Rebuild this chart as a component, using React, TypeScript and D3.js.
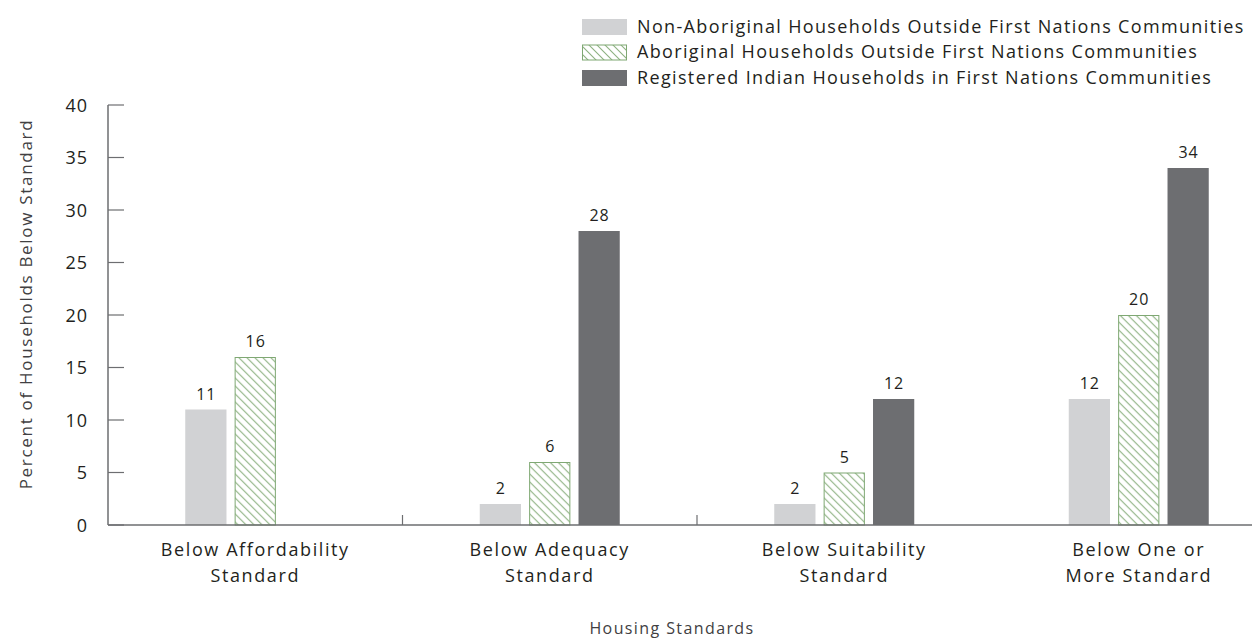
import React from "react";
import * as d3 from "d3";

const categories = [
  ["Below Affordability", "Standard"],
  ["Below Adequacy", "Standard"],
  ["Below Suitability", "Standard"],
  ["Below One or", "More Standard"],
];
const seriesNames = [
  "Non-Aboriginal Households Outside First Nations Communities",
  "Aboriginal Households Outside First Nations Communities",
  "Registered Indian Households in First Nations Communities",
];
const nonAboriginal = [11, 2, 2, 12];
const aboriginal = [16, 6, 5, 20];
const registeredIndian = [null, 28, 12, 34];
const yTicks = [0, 5, 10, 15, 20, 25, 30, 35, 40];

const W = 1252;
const H = 639;
const left = 108;
const groupWidth = 294.5;
const top = 105;
const bottom = 525;
const font = "'Open Sans', 'Noto Sans', sans-serif";
const textColor = "#231f20";
const axisColor = "#6d6e71";
const fills = ["#d1d2d4", "url(#hatch)", "#6d6e71"];

export default function App() {
  const series = [nonAboriginal, aboriginal, registeredIndian];
  const x0 = d3
    .scaleBand<number>()
    .domain(categories.map((_, i) => i))
    .range([left, left + groupWidth * categories.length]);
  const x1 = d3
    .scaleBand<number>()
    .domain([0, 1, 2])
    .range([0, 140])
    .paddingInner(0.165);
  const y = d3.scaleLinear().domain([0, 40]).range([bottom, top]);
  const groupOffset = (groupWidth - 140) / 2;

  return (
    <svg width={W} height={H} style={{ display: "block", position: "absolute", left: 0, top: 0 }}>
      <defs>
        <pattern id="hatch" patternUnits="userSpaceOnUse" width={8} height={8}>
          <rect width={8} height={8} fill="#fff" />
          <path d="M0,0 L8,8 M-4,4 L4,12 M4,-4 L12,4" stroke="#8db181" strokeWidth={1.1} />
        </pattern>
      </defs>

      {/* legend */}
      {seriesNames.map((name, i) => {
        const ly = 19 + i * 25.5;
        return (
          <g key={name}>
            <rect
              x={i === 1 ? 582.5 : 582}
              y={i === 1 ? ly + 0.5 : ly}
              width={i === 1 ? 44 : 45}
              height={i === 1 ? 15 : 16}
              fill={fills[i]}
              stroke={i === 1 ? "#7fa873" : "none"}
              strokeWidth={1}
            />
            <text
              x={637}
              y={ly + 13.5}
              fontFamily={font}
              fontSize={18}
              letterSpacing={1.35}
              fill={textColor}
            >
              {name}
            </text>
          </g>
        );
      })}

      {/* bars */}
      {categories.map((_, ci) => (
        <g key={ci} transform={`translate(${(x0(ci) ?? 0) + groupOffset},0)`}>
          {series.map((vals, si) => {
            const v = vals[ci];
            if (v == null) return null;
            const bx = x1(si) ?? 0;
            const bw = x1.bandwidth();
            return (
              <g key={si}>
                <rect
                  x={si === 1 ? bx + 0.5 : bx}
                  y={si === 1 ? y(v) + 0.5 : y(v)}
                  width={si === 1 ? bw - 1 : bw}
                  height={si === 1 ? y(0) - y(v) - 0.5 : y(0) - y(v)}
                  fill={fills[si]}
                  stroke={si === 1 ? "#7fa873" : "none"}
                  strokeWidth={1}
                />
                <text
                  x={bx + bw / 2 + 0.5}
                  y={y(v) - 10}
                  textAnchor="middle"
                  fontFamily={font}
                  fontSize={16}
                  letterSpacing={1}
                  fill={textColor}
                >
                  {v}
                </text>
              </g>
            );
          })}
        </g>
      ))}

      {/* y axis */}
      <line x1={left} x2={left} y1={top} y2={bottom} stroke={axisColor} strokeWidth={1.5} />
      {yTicks.map((t) => (
        <g key={t}>
          <line x1={left} x2={left + 16} y1={y(t)} y2={y(t)} stroke={axisColor} strokeWidth={1.2} />
          <text
            x={88}
            y={y(t) + 6.5}
            textAnchor="end"
            fontFamily={font}
            fontSize={18}
            letterSpacing={1}
            fill={textColor}
          >
            {t}
          </text>
        </g>
      ))}
      <text
        transform={`translate(27,304) rotate(-90)`}
        textAnchor="middle"
        dominantBaseline="middle"
        fontFamily={font}
        fontSize={17}
        letterSpacing={1.7}
        fill="#414042"
      >
        Percent of Households Below Standard
      </text>

      {/* x axis */}
      <line x1={left} x2={W} y1={bottom} y2={bottom} stroke={axisColor} strokeWidth={1.5} />
      {[1, 2].map((i) => (
        <line
          key={i}
          x1={x0(i) ?? 0}
          x2={x0(i) ?? 0}
          y1={bottom - 10}
          y2={bottom}
          stroke={axisColor}
          strokeWidth={1.2}
        />
      ))}
      {categories.map((lines, ci) => (
        <text
          key={ci}
          textAnchor="middle"
          fontFamily={font}
          fontSize={18}
          letterSpacing={1.6}
          fill={textColor}
        >
          {lines.map((l, li) => (
            <tspan key={li} x={(x0(ci) ?? 0) + groupWidth / 2} y={556 + li * 26}>
              {l}
            </tspan>
          ))}
        </text>
      ))}
      <text
        x={672}
        y={634}
        textAnchor="middle"
        fontFamily={font}
        fontSize={16}
        letterSpacing={1.4}
        fill="#414042"
      >
        Housing Standards
      </text>
    </svg>
  );
}
